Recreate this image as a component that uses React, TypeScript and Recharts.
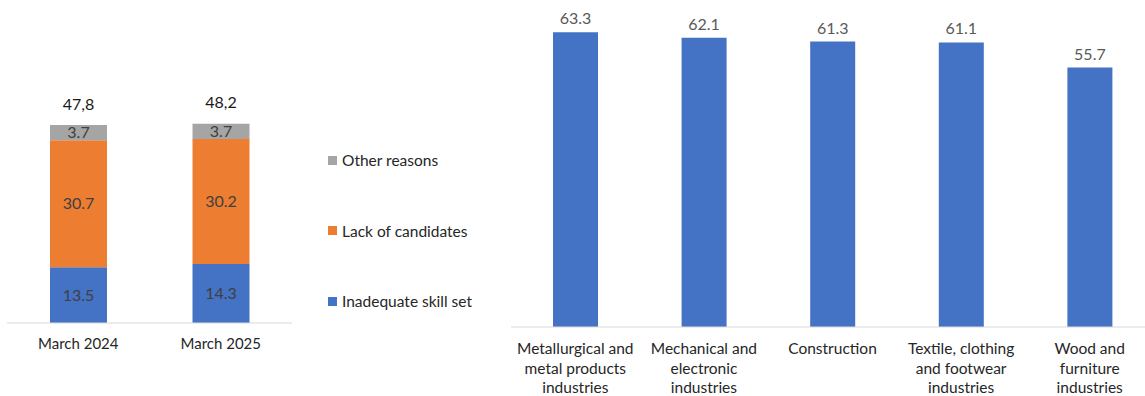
import React from 'react';
import { BarChart, Bar, XAxis, YAxis, LabelList } from 'recharts';

// left panel: reasons for hiring difficulties (stacked)
const periods = ['March 2024', 'March 2025'];
const inadequateSkills = [13.5, 14.3];
const lackOfCandidates = [30.7, 30.2];
const otherReasons = [3.7, 3.7];
const totals = ['47,8', '48,2'];

// right panel: by sector
const sectors = [
  'Metallurgical and\nmetal products\nindustries',
  'Mechanical and\nelectronic\nindustries',
  'Construction',
  'Textile, clothing\nand footwear\nindustries',
  'Wood and\nfurniture\nindustries',
];
const sectorValues = [63.3, 62.1, 61.3, 61.1, 55.7];

const BLUE = '#4472C4';
const ORANGE = '#ED7D31';
const GREY = '#A5A5A5';
const FONT = 'Lato, "Open Sans", sans-serif';

const stackData = periods.map((p, i) => ({
  period: p,
  skills: inadequateSkills[i],
  lack: lackOfCandidates[i],
  other: otherReasons[i],
}));

const sectorData = sectors.map((s, i) => ({ sector: s, value: sectorValues[i] }));

const legendItems = [
  { name: 'Other reasons', color: GREY },
  { name: 'Lack of candidates', color: ORANGE },
  { name: 'Inadequate skill set', color: BLUE },
];

const StackLegend = () => (
  <div style={{ position: 'absolute', left: 328, top: 150, fontFamily: FONT, fontSize: 15.5, color: '#262626' }}>
    {legendItems.map((it, i) => (
      <div key={it.name} style={{ display: 'flex', alignItems: 'center', height: 20, marginBottom: i < 2 ? 50.5 : 0 }}>
        <span style={{ width: 9, height: 9, background: it.color, marginRight: 5, display: 'inline-block' }} />
        <span>{it.name}</span>
      </div>
    ))}
  </div>
);

const TotalLabel = (props: any) => {
  const { x, width, y, index } = props;
  return (
    <text x={x + width / 2} y={y - 22} textAnchor="middle" dominantBaseline="central"
      fontFamily={FONT} fontSize={16} fill="#1a1a1a">
      {totals[index]}
    </text>
  );
};

const SectorTick = (props: any) => {
  const { x, y, payload } = props;
  const lines = String(payload.value).split('\n');
  return (
    <text x={x} y={y} textAnchor="middle" fontFamily={FONT} fontSize={15.5} fill="#262626">
      {lines.map((l: string, i: number) => (
        <tspan key={i} x={x} dy={i === 0 ? 19 : 19.5}>{l}</tspan>
      ))}
    </text>
  );
};

export default function App() {
  return (
    <div style={{ position: 'fixed', left: 0, top: 0, width: 1145, height: 396, overflow: 'hidden', background: '#fff' }}>
      <div style={{ position: 'absolute', left: 0, top: 0 }}>
        <BarChart width={320} height={396} data={stackData}
          margin={{ top: 75, right: 28, left: 7, bottom: 43 }} barSize={57}>
          <XAxis dataKey="period" height={30} axisLine={{ stroke: '#D9D9D9' }} tickLine={false}
            tick={{ fontFamily: FONT, fontSize: 15, fill: '#262626', dy: 7 }} />
          <YAxis hide domain={[0, 60]} />
          <Bar dataKey="skills" stackId="a" fill={BLUE} isAnimationActive={false}>
            <LabelList dataKey="skills" position="center" fill="#404040" fontSize={16} fontFamily={FONT} />
          </Bar>
          <Bar dataKey="lack" stackId="a" fill={ORANGE} isAnimationActive={false}>
            <LabelList dataKey="lack" position="center" fill="#404040" fontSize={16} fontFamily={FONT} />
          </Bar>
          <Bar dataKey="other" stackId="a" fill={GREY} isAnimationActive={false}>
            <LabelList dataKey="other" position="center" fill="#404040" fontSize={16} fontFamily={FONT} />
            <LabelList dataKey="other" content={<TotalLabel />} />
          </Bar>
        </BarChart>
      </div>
      <StackLegend />
      <div style={{ position: 'absolute', left: 500, top: 0 }}>
        <BarChart width={660} height={396} data={sectorData}
          margin={{ top: 1, right: 6, left: 11, bottom: 9 }} barSize={45}>
          <XAxis dataKey="sector" height={60} axisLine={{ stroke: '#D9D9D9' }} tickLine={false}
            interval={0} tick={<SectorTick />} />
          <YAxis hide domain={[0, 70]} />
          <Bar dataKey="value" fill={BLUE} isAnimationActive={false}>
            <LabelList dataKey="value" position="top" offset={8} fill="#595959" fontSize={16} fontFamily={FONT}
              formatter={(v: any) => Number(v).toFixed(1)} />
          </Bar>
        </BarChart>
      </div>
    </div>
  );
}
